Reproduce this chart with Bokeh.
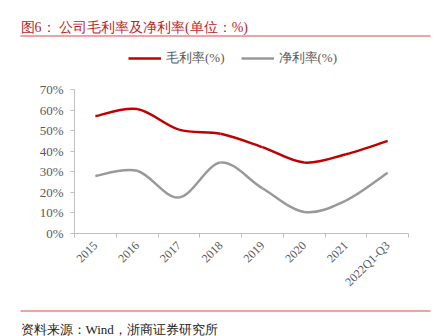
from bokeh.plotting import figure
from bokeh.layouts import column, row
from bokeh.models import Range1d, FixedTicker, Legend, LegendItem, ColumnDataSource
from bokeh.core.properties import value
from bokeh.embed import file_html
from bokeh.resources import INLINE
import math

categories = ["2015", "2016", "2017", "2018", "2019", "2020", "2021", "2022Q1-Q3"]
gross_margin = [57.0, 60.5, 50.5, 48.5, 42.0, 34.5, 38.5, 45.0]
net_margin = [28.0, 30.5, 17.5, 34.5, 22.0, 10.5, 16.0, 29.5]
y_ticks = [0, 10, 20, 30, 40, 50, 60, 70]
series_names = ["毛利率(%)", "净利率(%)"]
title_text = "图6：\u00a0公司毛利率及净利率(单位：%)"
source_text = "资料来源：Wind，浙商证券研究所"

RED = "#c00000"
GRAY = "#999999"
TXT = "#595959"
RULE = "#e04848"
FONT = "Liberation Serif"
W = 444

# ---------- header (title, rule, legend) ----------
HH = 79
head = figure(width=W, height=HH, output_backend="svg", toolbar_location=None,
              x_range=Range1d(0, W), y_range=Range1d(HH, 0),
              min_border=0, outline_line_color=None, x_axis_type=None, y_axis_type=None)
head.grid.visible = False
head.text(x=[20], y=[27], text=[title_text], text_font=value(FONT), text_font_size="14px",
          text_color="#b8262c", text_baseline="alphabetic")
head.segment(x0=[20], y0=[35.5], x1=[430], y1=[35.5], line_color=RULE, line_width=1.2)
r1 = head.line([-60, -50], [-60, -60], line_color=RED, line_width=2.5)
r2 = head.line([-60, -50], [-60, -60], line_color=GRAY, line_width=2.5)
legend = Legend(items=[LegendItem(label=series_names[0], renderers=[r1]),
                       LegendItem(label=series_names[1], renderers=[r2])],
                location=(128, HH - 67), orientation="horizontal",
                border_line_color=None, background_fill_alpha=0,
                padding=0, margin=0, spacing=16, glyph_width=33, glyph_height=14,
                label_height=14, label_standoff=5,
                label_text_font=FONT, label_text_font_size="13px", label_text_color=TXT)
head.add_layout(legend, "center")

# ---------- main chart ----------
MH = 217
p = figure(width=W, height=MH, output_backend="svg", toolbar_location=None,
           x_range=Range1d(0, len(categories)), y_range=Range1d(0, 70),
           min_border_left=74, min_border_right=36, min_border_top=10, min_border_bottom=60,
           outline_line_color=None)
p.grid.visible = False

centers = [i + 0.5 for i in range(len(categories))]
p.xaxis.ticker = FixedTicker(ticks=centers, minor_ticks=list(range(len(categories) + 1)))
p.xaxis.major_label_overrides = {c: lab for c, lab in zip(centers, categories)}
p.xaxis.major_tick_line_color = None
p.xaxis.minor_tick_line_color = "#bfbfbf"
p.xaxis.minor_tick_out = 4
p.xaxis.minor_tick_in = 0
p.xaxis.axis_line_color = "#bfbfbf"
p.xaxis.major_label_orientation = math.pi / 4
p.xaxis.major_label_text_font = FONT
p.xaxis.major_label_text_font_size = "12px"
p.xaxis.major_label_text_color = TXT
p.xaxis.major_label_standoff = 4

p.yaxis.ticker = FixedTicker(ticks=y_ticks, minor_ticks=[])
p.yaxis.major_label_overrides = {t: f"{t}%" for t in y_ticks}
p.yaxis.axis_line_color = "#bfbfbf"
p.yaxis.major_tick_line_color = "#bfbfbf"
p.yaxis.major_tick_out = 4
p.yaxis.major_tick_in = 0
p.yaxis.major_label_text_font = FONT
p.yaxis.major_label_text_font_size = "13px"
p.yaxis.major_label_text_color = TXT
p.yaxis.major_label_standoff = 7


def smooth(xs, ys):
    n = len(xs)
    d = dict(x0=[], y0=[], x1=[], y1=[], cx0=[], cy0=[], cx1=[], cy1=[])
    for i in range(n - 1):
        xp, yp = (xs[i - 1], ys[i - 1]) if i > 0 else (xs[i], ys[i])
        xn, yn = (xs[i + 2], ys[i + 2]) if i + 2 < n else (xs[i + 1], ys[i + 1])
        d["x0"].append(xs[i]); d["y0"].append(ys[i])
        d["x1"].append(xs[i + 1]); d["y1"].append(ys[i + 1])
        d["cx0"].append(xs[i] + (xs[i + 1] - xp) / 6)
        d["cy0"].append(ys[i] + (ys[i + 1] - yp) / 6)
        d["cx1"].append(xs[i + 1] - (xn - xs[i]) / 6)
        d["cy1"].append(ys[i + 1] - (yn - ys[i]) / 6)
    return ColumnDataSource(d)


for ys, col in ((gross_margin, RED), (net_margin, GRAY)):
    p.bezier(x0="x0", y0="y0", x1="x1", y1="y1", cx0="cx0", cy0="cy0", cx1="cx1", cy1="cy1",
             source=smooth(centers, ys), line_color=col, line_width=2.5)

# ---------- footer (rule, source) ----------
FH = 336 - HH - MH
foot = figure(width=W, height=FH, output_backend="svg", toolbar_location=None,
              x_range=Range1d(0, W), y_range=Range1d(FH, 0),
              min_border=0, outline_line_color=None, x_axis_type=None, y_axis_type=None)
foot.grid.visible = False
foot.segment(x0=[20], y0=[14.5], x1=[430], y1=[14.5], line_color=RULE, line_width=1.2)
foot.text(x=[20], y=[33], text=[source_text], text_font=value(FONT), text_font_size="13px",
          text_color="#222222", text_baseline="alphabetic")

layout = column(row(head), row(p), row(foot), spacing=0)
open("out.html", "w").write(file_html(layout, INLINE))
